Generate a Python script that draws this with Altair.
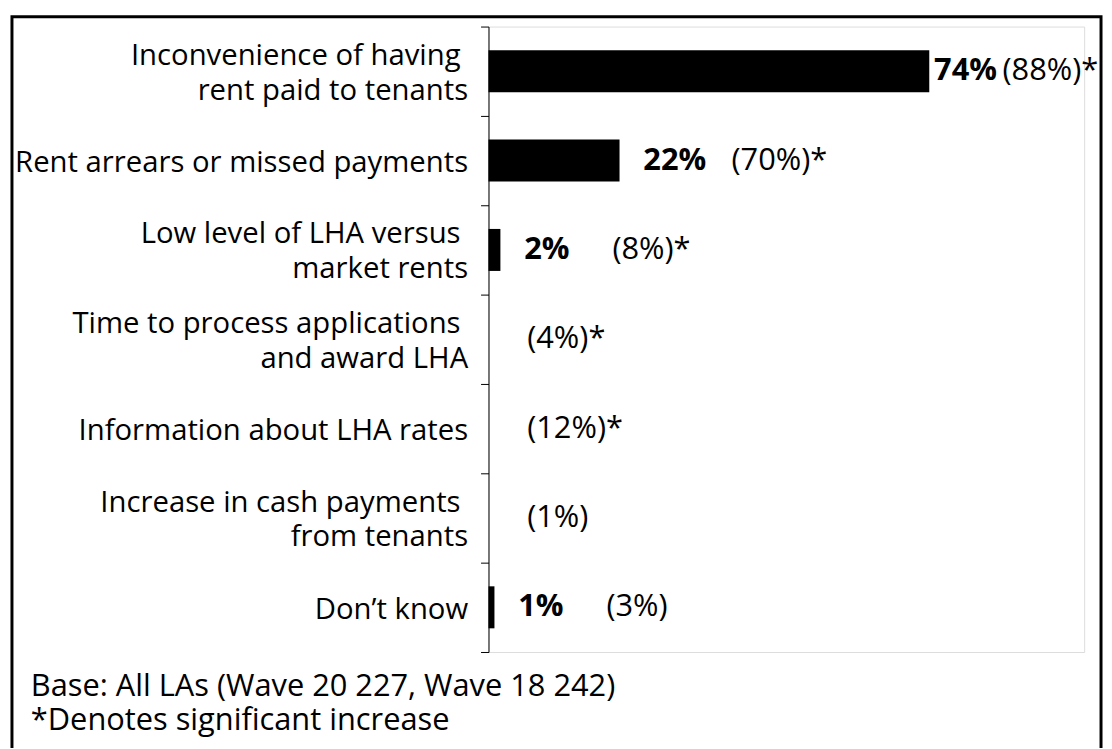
import altair as alt
import pandas as pd

TS = "\u00a0\u200b"  # trailing space kept visible after the first line
categories = [
    "Inconvenience of having" + TS + "|rent paid to tenants",
    "Rent arrears or missed payments",
    "Low level of LHA versus" + TS + "|market rents",
    "Time to process applications" + TS + "|and award LHA",
    "Information about LHA rates",
    "Increase in cash payments" + TS + "|from tenants",
    "Don\u2019t know",
]
wave20 = [74, 22, 2, 0, 0, 0, 1]
wave18 = [88, 70, 8, 4, 12, 1, 3]
significant = [True, True, True, True, True, False, False]
footnotes = [
    "Base: All LAs (Wave 20 227, Wave 18 242)",
    "*Denotes significant increase",
]

FONT = "Open Sans"
AXIS_FS = 29.5
LABEL_FS = 31
NOTE_FS = 31

rows = []
for c, v, w, s in zip(categories, wave20, wave18, significant):
    bold = f"{v}%" if v > 0 else ""
    paren = f"({w}%)" + ("*" if s else "")
    if v > 0:
        gap = 0.8 if v > 50 else 4.0
        bold_x = v + gap
        paren_x = bold_x + (11.5 if v > 50 else 14.8)
    else:
        bold_x = 0
        paren_x = 6.5
    rows.append(dict(cat=c, v=v, bold=bold, paren=paren, bx=bold_x, px=paren_x))
df = pd.DataFrame(rows)

yenc = alt.Y(
    "cat:N",
    sort=categories,
    scale=alt.Scale(paddingInner=0, paddingOuter=0),
    axis=alt.Axis(
        title=None,
        labelExpr="split(datum.label, '|')",
        labelFont=FONT,
        labelFontSize=AXIS_FS,
        labelColor="black",
        labelLineHeight=35,
        labelPadding=13,
        labelLimit=600,
        labelOffset={
            "condition": {"test": "indexof(datum.label, '|') >= 0", "value": -16},
            "value": 2,
        },
        tickSize=8,
        tickColor="black",
        tickBand="extent",
        domainColor="black",
        grid=False,
    ),
)
xscale = alt.Scale(domain=[0, 100], nice=False)

base = alt.Chart(df)
bars = base.mark_bar(color="black", height={"band": 0.47}).encode(
    x=alt.X("v:Q", scale=xscale, axis=None),
    y=yenc,
)
bold_txt = base.mark_text(
    align="left", baseline="middle", font=FONT, fontSize=LABEL_FS, fontWeight="bold", color="black"
).encode(
    x=alt.X("bx:Q", scale=xscale, axis=None),
    y=alt.Y("cat:N", sort=categories),
    text="bold:N",
)
paren_txt = base.mark_text(
    align="left", baseline="middle", font=FONT, fontSize=LABEL_FS, color="black"
).encode(
    x=alt.X("px:Q", scale=xscale, axis=None),
    y=alt.Y("cat:N", sort=categories),
    text="paren:N",
)

layers = [bars, bold_txt, paren_txt]
for i, note in enumerate(footnotes):
    layers.append(
        alt.Chart(pd.DataFrame({"note": [note]}))
        .mark_text(align="left", baseline="alphabetic", font=FONT, fontSize=NOTE_FS, color="black")
        .encode(x=alt.value(-461), y=alt.value(674 + 35 * i), text="note:N")
    )

frame = alt.Chart(pd.DataFrame({"a": [0]})).mark_rect(
    fill="transparent", stroke="black", strokeWidth=3
).encode(x=alt.value(-480), x2=alt.value(617), y=alt.value(-10), y2=alt.value(740))
layers.append(frame)

chart = (
    alt.layer(*layers)
    .properties(
        width=600,
        height=630,
        autosize=alt.AutoSizeParams(type="none"),
        padding={"left": 484, "top": 16, "right": 20, "bottom": 94},
    )
    .configure_view(stroke=None)
    .configure(background="white")
)

chart.save("out.html", embed_options={"renderer": "svg", "actions": False})
